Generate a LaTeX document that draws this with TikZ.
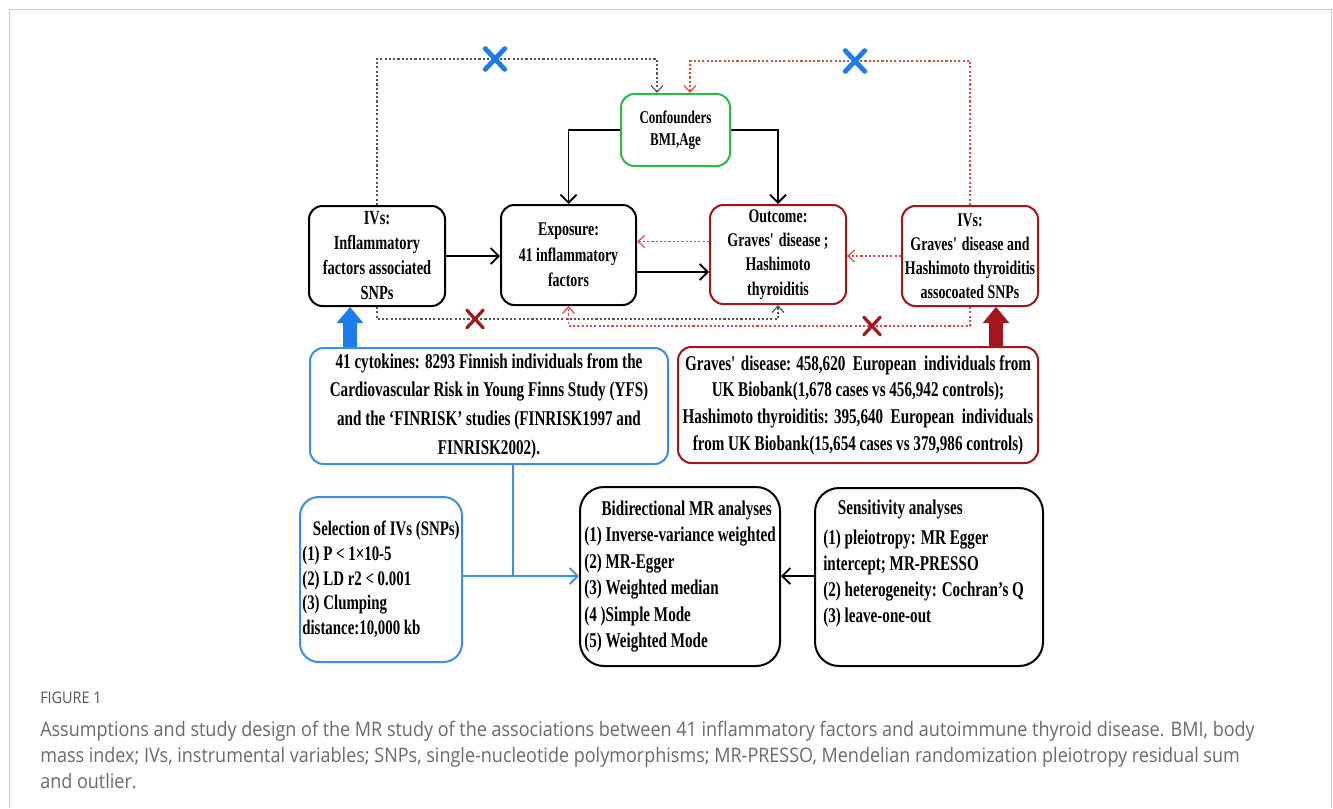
\documentclass[tikz,border=0pt]{standalone}
\usepackage{fontspec}
\setmainfont[FakeStretch=0.72]{Liberation Serif}
\newfontfamily\capfont[FakeStretch=0.9]{Open Sans}
\usetikzlibrary{arrows.meta,shapes.misc,calc}
\definecolor{cblue}{HTML}{3A8DF0}
\definecolor{cbluedark}{HTML}{1E7BEA}
\definecolor{cgreen}{HTML}{2EB84B}
\definecolor{cdred}{HTML}{A3161B}
\definecolor{cred}{HTML}{D94A4A}
\definecolor{cgray}{HTML}{555555}
\definecolor{capgray}{HTML}{6A6A6A}
\definecolor{framegray}{HTML}{C8C8C8}
\tikzset{
  box/.style={draw, line width=1.5pt, rounded corners=10pt, inner sep=0pt, align=center},
  sz/.style 2 args={minimum width=#1*0.75pt, minimum height=#2*0.75pt},
  txt/.style 2 args={font=\bfseries\fontsize{#1}{#2}\selectfont},
  conn/.style={line width=1.4pt, -{Straight Barb[length=6pt,width=12pt]}},
  dotg/.style={draw=cgray, line width=0.9pt, dash pattern=on 1.6pt off 1.6pt, -{Straight Barb[length=5pt,width=9pt]}},
  dotr/.style={dotg, draw=cred},
  bigarrow/.style={line width=10pt, -{Triangle[length=12pt,width=20pt,line width=0pt]}},
  xmark/.style={cross out, draw, line cap=round, inner sep=0pt},
  capt/.style={anchor=base west, inner sep=0pt, text=capgray, font=\capfont\fontsize{15}{17}\selectfont}
}
\begin{document}
\begin{tikzpicture}[x=0.75pt,y=-0.75pt]
\useasboundingbox (0,0) rectangle (1333,808);
\draw[framegray, line width=0.9pt] (9.5,808) -- (9.5,9.5) -- (1331.5,9.5) -- (1331.5,808);

% boxes
\node[box, draw=cgreen, sz={109}{72}, txt={13.5}{16.5}] (conf) at (675.5,130) {Confounders\\BMI,Age};
\node[box, sz={136}{100}, txt={15}{18.75}] (ivl) at (377,256) {IVs:\\Inflammatory\\factors associated\\SNPs};
\node[box, sz={135}{100}, txt={14.5}{19}] (exp) at (568.5,255) {Exposure:\\41 inflammatory\\factors};
\node[box, draw=cdred, sz={136}{99}, txt={14.5}{18.25}] (out) at (778,254.5) {Outcome:\\Graves\textquotesingle{} disease\hspace{2.5pt};\\Hashimoto\\thyroiditis};
\node[box, draw=cdred, sz={136}{100}, txt={14.5}{18}] (ivr) at (970,256) {IVs:\\Graves\textquotesingle{} disease and\\Hashimoto thyroiditis\\assocoated SNPs};
\node[box, draw=cblue, sz={358}{116}, txt={15.75}{21.5}] (cyt) at (489,406) {41 cytokines: 8293 Finnish individuals from the\\Cardiovascular Risk in Young Finns Study (YFS)\\and the ‘FINRISK’ studies (FINRISK1997 and\\FINRISK2002).};
\node[box, draw=cdred, sz={360}{116}, txt={15.75}{20}] (gd) at (858,405) {Graves\textquotesingle{} disease: 458,620\ \ European\ \ individuals from\\UK Biobank(1,678 cases vs 456,942 controls);\\Hashimoto thyroiditis: 395,640\ \ European\ \ individuals\\from UK Biobank(15,654 cases vs 379,986 controls)};
\node[box, draw=cblue, rounded corners=14pt, sz={162}{165}, txt={15.5}{18.5}, align=left] (sel) at (381,579.5) {\hspace*{8pt}Selection of IVs (SNPs)\\(1) P < 1×10-5\\(2) LD r2 < 0.001\\(3) Clumping\\distance:10,000 kb};
\node[box, rounded corners=18pt, sz={200}{179}, txt={15.75}{19.8}, align=left] (bid) at (680,576.5) {\hspace*{13pt}Bidirectional MR analyses\\(1) Inverse-variance weighted\\(2) MR-Egger\\(3) Weighted median\\(4 )Simple Mode\\(5) Weighted Mode};
\node[box, rounded corners=18pt, sz={228}{178}] (sens) at (929,577) {};
\node[anchor=west, inner sep=0pt, align=left, txt={15.75}{19.5}] (senst) at (823,563) {\hspace*{11pt}Sensitivity analyses\\[3pt](1) pleiotropy: MR Egger\\intercept; MR-PRESSO\\(2) heterogeneity: Cochran’s Q\\(3) leave-one-out};

% cross marks positions
\coordinate (xb1) at (495,59);
\coordinate (xb2) at (855,61);
\coordinate (xr1) at (475,319);
\coordinate (xr2) at (872,326);
\coordinate (c1) at ($(conf.north)+(-18.5,0)$);
\coordinate (c2) at ($(conf.north)+(14.5,0)$);

% solid connectors
\draw[conn] (conf.west) -| (exp.north);
\draw[conn] (conf.east) -| (out.north);
\draw[conn] (ivl.east) -- (ivl.east -| exp.west);
\coordinate (e1) at ($(exp.east)+(0,17)$);
\draw[conn] (e1) -- (e1 -| out.west);

% dotted connectors
\coordinate (o1) at ($(out.west)+(0,-13)$);
\draw[dotr] (o1) -- (o1 -| exp.east);
\draw[dotr] (ivr.west) -- (ivr.west -| out.east);
\draw[dotg] (ivl.north) |- (xb1) -| (c1);
\draw[dotr] (ivr.north) |- (xb2) -| (c2);
\draw[dotg] (ivl.south) |- (xr1) -| (out.south);
\draw[dotr] (ivr.south) |- (xr2) -| (exp.south);

% cross marks
\node[xmark, draw=cbluedark, line width=3.6pt, minimum width=11pt, minimum height=12pt] (xb1m) at (xb1) {};
\node[xmark, draw=cbluedark, line width=3.6pt, minimum width=11pt, minimum height=12pt] (xb2m) at (xb2) {};
\node[xmark, draw=cdred, line width=2.4pt, minimum width=10pt, minimum height=11pt] (xr1m) at (xr1) {};
\node[xmark, draw=cdred, line width=2.4pt, minimum width=10pt, minimum height=11pt] (xr2m) at (xr2) {};

% thick arrows
\coordinate (ba) at (350,0);
\coordinate (ra) at (996,0);
\draw[bigarrow, draw=cbluedark] (cyt.north -| ba) -- (ivl.south -| ba);
\draw[bigarrow, draw=cdred] (gd.north -| ra) -- (ivr.south -| ra);

% blue junction
\coordinate (bj) at (513,576);
\draw[cblue, line width=1.5pt] (cyt.south -| bj) -- (bj);
\draw[conn, draw=cblue] (sel.east |- bj) -- (bid.west |- bj);
\draw[conn] (sens.west |- bj) -- (bid.east |- bj);

% caption
\node[capt, font=\capfont\fontsize{12}{14}\selectfont, text=cgray] (figlbl) at (40,703) {FIGURE 1};
\node[capt] (cap1) at (40,736) {Assumptions and study design of the MR study of the associations between 41 inflammatory factors and autoimmune thyroid disease. BMI, body};
\node[capt] (cap2) at (40,762) {mass index; IVs, instrumental variables; SNPs, single-nucleotide polymorphisms; MR-PRESSO, Mendelian randomization pleiotropy residual sum};
\node[capt] (cap3) at (40,788) {and outlier.};
\end{tikzpicture}
\end{document}
